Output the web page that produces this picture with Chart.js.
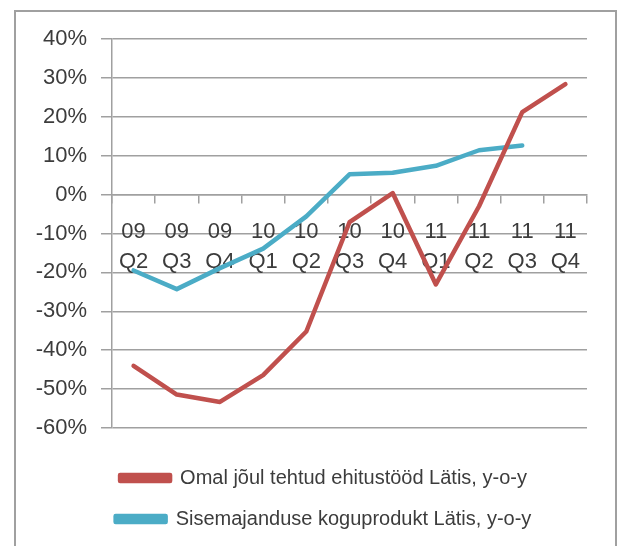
<!DOCTYPE html>
<html>
<head>
<meta charset="utf-8">
<script src="https://cdn.jsdelivr.net/npm/chart.js@4"></script>
<style>
  body { margin: 0; background: #fff; }
  #wrap { width: 619px; height: 546px; }
</style>
</head>
<body>
<div id="wrap"><canvas id="myChart"></canvas></div>
<script>
const aastad = ['09', '09', '09', '10', '10', '10', '10', '11', '11', '11', '11']
const kvartalid = ['Q2', 'Q3', 'Q4', 'Q1', 'Q2', 'Q3', 'Q4', 'Q1', 'Q2', 'Q3', 'Q4']
const ehitus = [-44.0, -51.4, -53.3, -46.4, -35.2, -7.1, 0.4, -23.1, -3.0, 21.2, 28.4]
const skp = [-19.5, -24.3, -18.9, -13.9, -5.6, 5.2, 5.6, 7.4, 11.4, 12.6, null]
const nimed = ['Omal jõul tehtud ehitustööd Lätis, y-o-y', 'Sisemajanduse koguprodukt Lätis, y-o-y']

const punane = '#c0504d'
const sinine = '#4bacc6'
const hall = '#a0a0a0'
const tekst = '#3c3c3c'
const font = 'Liberation Sans, Arial, sans-serif'

// hall raam ümber kogu graafiku, legend veidi paremale nagu Excelis
const raam = {
  id: 'raam',
  afterLayout: (chart) => {
    if (chart.legend) chart.legend.left = 60
  },
  beforeDraw: (chart) => {
    const ctx = chart.ctx
    ctx.save()
    ctx.strokeStyle = hall
    ctx.lineWidth = 2
    ctx.strokeRect(15, 11, 601, 600)
    ctx.restore()
  }
}

const seeria = (label, data, color) => ({
  label,
  data,
  borderColor: color,
  backgroundColor: color,
  borderWidth: 4.5,
  borderCapStyle: 'round',
  borderJoinStyle: 'round',
  pointRadius: 0,
  tension: 0
})

const makeConfig = () => ({
  type: 'line',
  data: {
    labels: aastad.map((a, i) => [a, kvartalid[i]]),
    datasets: [seeria(nimed[0], ehitus, punane), seeria(nimed[1], skp, sinine)]
  },
  options: {
    responsive: true,
    maintainAspectRatio: false,
    animation: false,
    layout: { padding: { left: 30, right: 32, top: 39, bottom: 7 } },
    plugins: {
      tooltip: { enabled: false },
      legend: {
        position: 'bottom',
        title: { display: true, text: '', font: { size: 10 }, padding: { top: 7, bottom: 0 } },
        labels: {
          boxWidth: 50,
          boxHeight: 6,
          padding: 21,
          color: tekst,
          font: { family: font, size: 20 }
        }
      }
    },
    scales: {
      x: {
        position: { y: 0 },
        offset: true,
        grid: { offset: true, drawOnChartArea: false, tickLength: 8, color: hall, lineWidth: 1.5 },
        border: { color: hall, width: 1.5 },
        ticks: { color: tekst, padding: 14, maxRotation: 0, autoSkip: false, font: { family: font, size: 22, lineHeight: 30 / 22 } }
      },
      y: {
        min: -60,
        max: 40,
        afterFit: (scale) => { scale.width = 82 },
        grid: { color: hall, lineWidth: 1.5, tickLength: 11 },
        border: { color: hall, width: 1.5 },
        ticks: { stepSize: 10, padding: 14, color: tekst, font: { family: font, size: 22 }, callback: (v) => v + '%' }
      }
    }
  },
  plugins: [raam]
})

new Chart(document.getElementById('myChart'), makeConfig())
</script>
</body>
</html>
